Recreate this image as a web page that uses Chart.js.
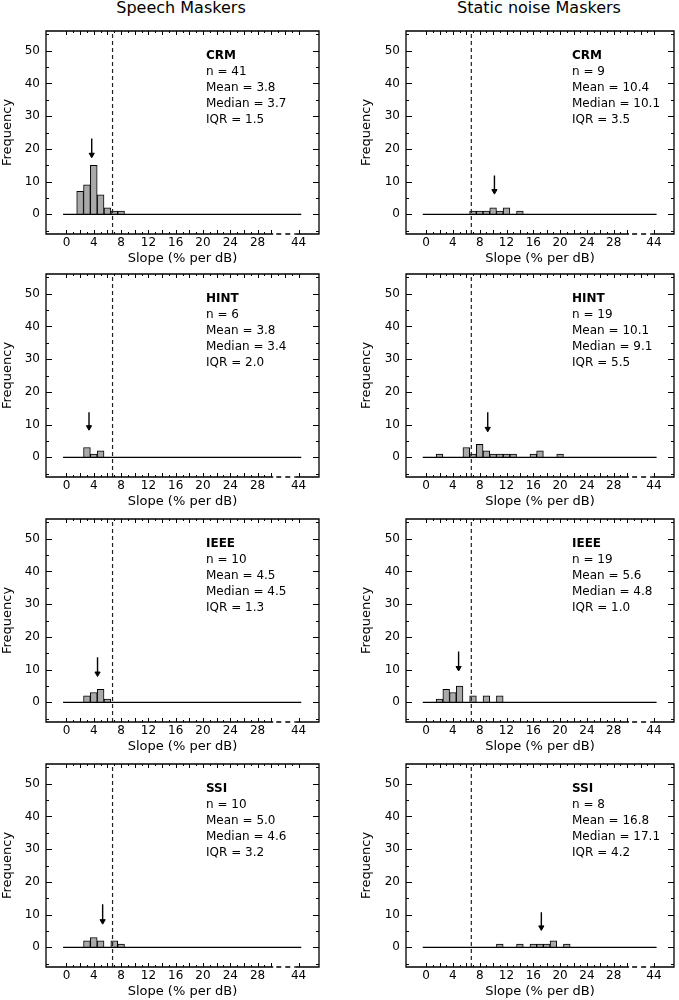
<!DOCTYPE html>
<html>
<head>
<meta charset="utf-8">
<script src="https://cdn.jsdelivr.net/npm/chart.js@4/dist/chart.umd.min.js"></script>
<style>
  body { margin: 0; background: #fff; }
  #page { position: relative; width: 679px; height: 1000px; background: #fff; font-family: "DejaVu Sans", sans-serif; }
  .coltitle { position: absolute; top: 0; font-size: 16px; line-height: 15px; color: #000; transform: translateX(-50%); white-space: nowrap; }
  canvas { position: absolute; }
</style>
</head>
<body>
<div id="page">
  <div class="coltitle" style="left:181px">Speech Maskers</div>
  <div class="coltitle" style="left:539px">Static noise Maskers</div>
</div>
<script>
// Tests, one per row
const tests = ['CRM', 'HINT', 'IEEE', 'SSI'];

// Speech maskers (left column): histogram bins (slope, % per dB) and counts
const speechBins = [[2, 3, 4, 5, 6, 7, 8], [3, 4, 5], [3, 4, 5, 6], [3, 4, 5, 7, 8]];
const speechCounts = [[7, 9, 15, 6, 2, 1, 1], [3, 1, 2], [2, 3, 4, 1], [2, 3, 2, 2, 1]];
const speechN = ['41', '6', '10', '10'];
const speechMean = ['3.8', '3.8', '4.5', '5.0'];
const speechMedian = ['3.7', '3.4', '4.5', '4.6'];
const speechIqr = ['1.5', '2.0', '1.3', '3.2'];
const speechArrowX = [3.7, 3.3, 4.55, 5.3];
const speechArrowTop = [23.2, 13.8, 13.8, 13.2];
const speechArrowTip = [18.2, 9.2, 8.8, 8.0];

// Static noise maskers (right column)
const staticBins = [[7, 8, 9, 10, 11, 12, 14], [2, 6, 7, 8, 9, 10, 11, 12, 13, 16, 17, 20], [2, 3, 4, 5, 7, 9, 11], [11, 14, 16, 17, 18, 19, 21]];
const staticCounts = [[1, 1, 1, 2, 1, 2, 1], [1, 3, 1, 4, 2, 1, 1, 1, 1, 1, 2, 1], [1, 4, 3, 5, 2, 2, 2], [1, 1, 1, 1, 1, 2, 1]];
const staticN = ['9', '19', '19', '8'];
const staticMean = ['10.4', '10.1', '5.6', '16.8'];
const staticMedian = ['10.1', '9.1', '4.8', '17.1'];
const staticIqr = ['3.5', '5.5', '1.0', '4.2'];
const staticArrowX = [10.2, 9.2, 4.85, 17.2];
const staticArrowTop = [11.9, 13.8, 15.5, 10.7];
const staticArrowTip = [7.1, 8.7, 10.5, 6.1];

// Axis: 44 is drawn at position 34 after the axis break
const xTickValues = [0, 4, 8, 12, 16, 20, 24, 28, 34];
const xTickLabels = ['0', '4', '8', '12', '16', '20', '24', '28', '44'];
const yTickValues = [0, 10, 20, 30, 40, 50];
const cutoff = 6.75;            // dashed reference line
const baseRange = [-0.5, 34.4]; // zero line extent

const panelTops = [31, 273.5, 518.5, 764];
const plotH = 203;

// frame, inward ticks, axis break and the stats text
const framePlugin = {
    id: 'frame',
    afterDatasetsDraw(chart) {
        const ctx = chart.ctx;
        const a = chart.chartArea;
        const xs = chart.scales.x, ys = chart.scales.y;
        ctx.save();
        ctx.strokeStyle = '#000';
        ctx.lineWidth = 1;

        // left / right ticks
        for (let v = -5; v <= 55; v += 5) {
            const y = Math.round(ys.getPixelForValue(v)) + 0.5;
            const len = v % 10 === 0 ? 6 : 3;
            ctx.beginPath();
            ctx.moveTo(a.left, y); ctx.lineTo(a.left + len, y);
            ctx.moveTo(a.right, y); ctx.lineTo(a.right - len, y);
            ctx.stroke();
        }
        // top ticks
        for (let v = 0; v <= 34; v++) {
            const x = Math.round(xs.getPixelForValue(v)) + 0.5;
            const len = v % 2 === 0 ? 4 : 2;
            ctx.beginPath();
            ctx.moveTo(x, a.top); ctx.lineTo(x, a.top + len);
            ctx.stroke();
        }
        // bottom ticks (broken after 30)
        for (let v = 0; v <= 30; v++) {
            const x = Math.round(xs.getPixelForValue(v)) + 0.5;
            const len = v % 2 === 0 ? 4 : 2;
            ctx.beginPath();
            ctx.moveTo(x, a.bottom); ctx.lineTo(x, a.bottom - len);
            ctx.stroke();
        }
        const x44 = Math.round(xs.getPixelForValue(34)) + 0.5;
        ctx.beginPath();
        ctx.moveTo(x44, a.bottom); ctx.lineTo(x44, a.bottom - 4);
        ctx.stroke();

        // frame with break in the bottom edge
        ctx.lineWidth = 1.3;
        const b1 = xs.getPixelForValue(30.3), b2 = xs.getPixelForValue(33.6);
        ctx.beginPath();
        ctx.moveTo(b1, a.bottom);
        ctx.lineTo(a.left, a.bottom);
        ctx.lineTo(a.left, a.top);
        ctx.lineTo(a.right, a.top);
        ctx.lineTo(a.right, a.bottom);
        ctx.lineTo(b2, a.bottom);
        ctx.stroke();
        ctx.setLineDash([5, 4]);
        ctx.beginPath();
        ctx.moveTo(b1 + 3, a.bottom);
        ctx.lineTo(b2, a.bottom);
        ctx.stroke();
        ctx.setLineDash([]);

        // stats text
        const opts = chart.options.plugins.frame;
        ctx.fillStyle = '#000';
        ctx.textBaseline = 'middle';
        ctx.textAlign = 'left';
        opts.lines.forEach((t, i) => {
            ctx.font = (i === 0 ? 'bold ' : '') + '12px "DejaVu Sans"';
            ctx.fillText(t, a.left + opts.textX, a.top + 25 + i * 16);
        });
        ctx.restore();
    }
};

const axisFont = { family: 'DejaVu Sans', size: 12 };
const titleFont = { family: 'DejaVu Sans', size: 13 };

function makePanel(col, row) {
    const isSpeech = col === 0;
    const bins = (isSpeech ? speechBins : staticBins)[row];
    const counts = (isSpeech ? speechCounts : staticCounts)[row];
    const ax = (isSpeech ? speechArrowX : staticArrowX)[row];
    const aTop = (isSpeech ? speechArrowTop : staticArrowTop)[row];
    const aTip = (isSpeech ? speechArrowTip : staticArrowTip)[row];
    const lines = [
        tests[row],
        'n = ' + (isSpeech ? speechN : staticN)[row],
        'Mean = ' + (isSpeech ? speechMean : staticMean)[row],
        'Median = ' + (isSpeech ? speechMedian : staticMedian)[row],
        'IQR = ' + (isSpeech ? speechIqr : staticIqr)[row]
    ];

    const padLeft = isSpeech ? 0 : 19;
    const yWidth = isSpeech ? 46 : 47;
    const padRight = isSpeech ? 20 : 2;

    const canvas = document.createElement('canvas');
    canvas.width = 339;
    canvas.height = 5 + plotH + 34;
    canvas.style.left = (isSpeech ? 0 : 340) + 'px';
    canvas.style.top = (panelTops[row] - 5) + 'px';
    document.getElementById('page').appendChild(canvas);

    new Chart(canvas, {
        type: 'bar',
        data: {
            datasets: [
                {
                    type: 'bar',
                    data: bins.map((b, i) => ({ x: b, y: counts[i] })),
                    backgroundColor: '#a9a9a9',
                    borderColor: '#000',
                    borderWidth: 1,
                    barPercentage: 1,
                    categoryPercentage: 1,
                    order: 3
                },
                {
                    type: 'line',
                    data: [{ x: baseRange[0], y: 0 }, { x: baseRange[1], y: 0 }],
                    borderColor: '#000',
                    borderWidth: 1.2,
                    pointRadius: 0,
                    order: 2
                },
                {
                    type: 'line',
                    data: [{ x: cutoff, y: -6 }, { x: cutoff, y: 56 }],
                    borderColor: '#222',
                    borderWidth: 1.2,
                    borderDash: [4, 3],
                    pointRadius: 0,
                    order: 1
                },
                {
                    type: 'line',
                    data: [{ x: ax, y: aTop }, { x: ax, y: aTip }],
                    borderColor: '#000',
                    borderWidth: 1.4,
                    pointStyle: 'triangle',
                    pointRotation: 180,
                    pointRadius: [0, 3],
                    pointBackgroundColor: '#000',
                    pointBorderColor: '#000',
                    pointBorderWidth: 1,
                    order: 0
                }
            ]
        },
        options: {
            responsive: false,
            animation: false,
            devicePixelRatio: 1,
            layout: { padding: { left: padLeft, right: padRight, top: 5, bottom: 0 } },
            plugins: {
                legend: { display: false },
                tooltip: { enabled: false },
                frame: { lines: lines, textX: isSpeech ? 160 : 166 }
            },
            scales: {
                x: {
                    type: 'linear',
                    min: -3,
                    max: 37,
                    offset: false,
                    grid: { display: false, drawTicks: false },
                    border: { display: false },
                    afterBuildTicks: s => { s.ticks = xTickValues.map(v => ({ value: v })); },
                    afterFit: s => { s.height = 34; s.paddingLeft = 0; s.paddingRight = 0; },
                    ticks: {
                        autoSkip: false,
                        maxRotation: 0,
                        padding: 2,
                        color: '#000',
                        font: axisFont,
                        callback: v => xTickLabels[xTickValues.indexOf(v)]
                    },
                    title: {
                        display: true,
                        text: 'Slope (% per dB)',
                        color: '#000',
                        font: titleFont,
                        padding: { top: 0, bottom: 2 }
                    }
                },
                y: {
                    min: -6,
                    max: 56,
                    grid: { display: false, drawTicks: false },
                    border: { display: false },
                    afterBuildTicks: s => { s.ticks = yTickValues.map(v => ({ value: v })); },
                    afterFit: s => { s.width = yWidth; s.paddingTop = 0; s.paddingBottom = 0; },
                    ticks: { padding: 6, color: '#000', font: axisFont },
                    title: {
                        display: true,
                        text: 'Frequency',
                        color: '#000',
                        font: titleFont,
                        padding: 0
                    }
                }
            }
        },
        plugins: [framePlugin]
    });
}

for (let r = 0; r < 4; r++) {
    makePanel(0, r);
    makePanel(1, r);
}
</script>
</body>
</html>
